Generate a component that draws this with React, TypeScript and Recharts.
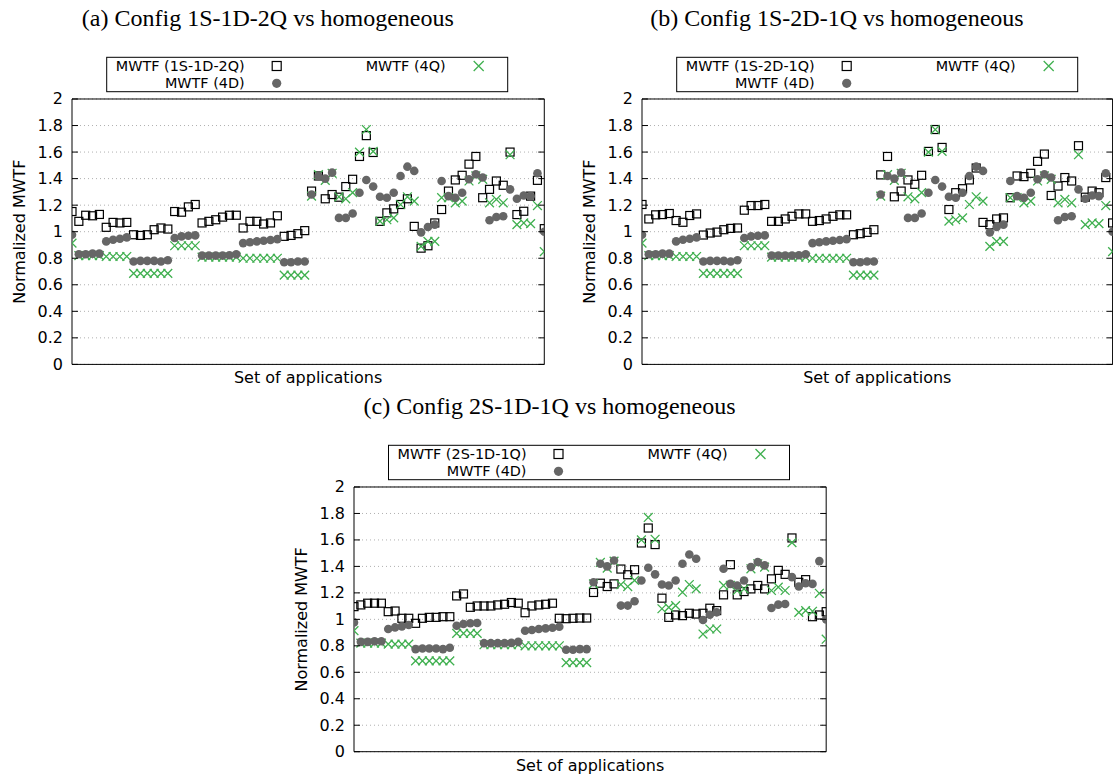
import { ScatterChart, Scatter, XAxis, YAxis, CartesianGrid, ReferenceArea } from 'recharts'

// values, one entry per application (70 of them)
const FOUR_D = [
  0.977, 0.83, 0.83, 0.835, 0.835, 0.927, 0.939, 0.947, 0.957, 0.775,
  0.78, 0.78, 0.78, 0.775, 0.785, 0.952, 0.965, 0.97, 0.972, 0.82,
  0.82, 0.82, 0.82, 0.822, 0.83, 0.914, 0.92, 0.927, 0.932, 0.937,
  0.944, 0.77, 0.77, 0.775, 0.775, 1.28, 1.42, 1.4, 1.445, 1.104,
  1.104, 1.137, 1.294, 1.39, 1.34, 1.263, 1.256, 1.294, 1.42, 1.49,
  1.458, 0.995, 1.035, 1.053, 1.382, 1.268, 1.256, 1.294, 1.395, 1.433,
  1.408, 1.086, 1.111, 1.116, 1.319, 1.248, 1.273, 1.268, 1.44, 1.0,
]

const FOUR_Q = [
  0.914, 0.82, 0.82, 0.82, 0.82, 0.813, 0.813, 0.813, 0.813, 0.686,
  0.686, 0.686, 0.686, 0.686, 0.686, 0.894, 0.894, 0.894, 0.894, 0.808,
  0.808, 0.808, 0.808, 0.808, 0.808, 0.8, 0.8, 0.8, 0.8, 0.8,
  0.8, 0.673, 0.673, 0.673, 0.673, 1.268, 1.43, 1.387, 1.44, 1.263,
  1.248, 1.294, 1.6, 1.77, 1.605, 1.08, 1.09, 1.104, 1.205, 1.263,
  1.23, 0.889, 0.927, 0.927, 1.256, 1.256, 1.218, 1.23, 1.382, 1.42,
  1.395, 1.218, 1.243, 1.218, 1.58, 1.053, 1.066, 1.061, 1.197, 0.85,
]

const CFG_1S1D2Q = [
  1.152, 1.078, 1.124, 1.12, 1.13, 1.033, 1.07, 1.066, 1.07, 0.977,
  0.972, 0.977, 1.015, 1.028, 1.02, 1.152, 1.147, 1.187, 1.205, 1.066,
  1.078, 1.09, 1.11, 1.124, 1.124, 1.028, 1.078, 1.078, 1.058, 1.066,
  1.12, 0.965, 0.972, 0.985, 1.008, 1.306, 1.42, 1.248, 1.28, 1.26,
  1.34, 1.395, 1.567, 1.724, 1.597, 1.078, 1.142, 1.172, 1.205, 1.248,
  1.04, 0.876, 0.894, 1.066, 1.167, 1.306, 1.39, 1.425, 1.509, 1.567,
  1.256, 1.319, 1.382, 1.35, 1.6, 1.129, 1.154, 1.268, 1.387, 1.023,
]

const CFG_1S2D1Q = [
  1.205, 1.096, 1.127, 1.129, 1.137, 1.084, 1.071, 1.122, 1.134, 0.975,
  0.99, 0.997, 1.015, 1.025, 1.028, 1.162, 1.197, 1.197, 1.205, 1.078,
  1.078, 1.096, 1.116, 1.134, 1.134, 1.078, 1.084, 1.096, 1.116, 1.127,
  1.127, 0.977, 0.985, 0.995, 1.015, 1.428, 1.567, 1.263, 1.306, 1.39,
  1.357, 1.425, 1.605, 1.77, 1.635, 1.167, 1.294, 1.324, 1.39, 1.48,
  1.07, 1.053, 1.096, 1.104, 1.256, 1.42, 1.415, 1.44, 1.53, 1.585,
  1.273, 1.344, 1.408, 1.382, 1.648, 1.26, 1.306, 1.294, 1.408, 1.066,
]

const CFG_2S1D1Q = [
  1.096, 1.109, 1.122, 1.122, 1.122, 1.058, 1.063, 1.008, 1.008, 0.97,
  1.008, 1.015, 1.015, 1.02, 1.02, 1.177, 1.192, 1.091, 1.101, 1.101,
  1.101, 1.109, 1.114, 1.127, 1.122, 1.05, 1.101, 1.109, 1.114, 1.122,
  1.008, 1.005, 1.008, 1.01, 1.01, 1.203, 1.273, 1.248, 1.268, 1.38,
  1.337, 1.375, 1.577, 1.69, 1.565, 1.16, 1.015, 1.033, 1.028, 1.046,
  1.04, 1.046, 1.084, 1.066, 1.185, 1.413, 1.185, 1.21, 1.23, 1.256,
  1.23, 1.306, 1.37, 1.34, 1.615, 1.28, 1.3, 1.02, 1.033, 1.058,
]

const Y_TICKS = [0, 0.2, 0.4, 0.6, 0.8, 1, 1.2, 1.4, 1.6, 1.8, 2]
const X_LAST = FOUR_D.length - 1

const SANS = 'DejaVu Sans, sans-serif'
const SERIF = 'Liberation Serif, Times New Roman, serif'
const GREEN = '#40b050'
const GREY = '#666666'

const YW = 72 // y axis band width
const TICK_GAP = 9
const MT = 12
const MR = 6
const XH = 24

interface PanelSpec {
  title: string
  cfgLabel: string
  cfg: number[]
  left: number
  top: number
  w: number
  h: number
}

const PANELS: PanelSpec[] = [
  { title: '(a) Config 1S-1D-2Q vs homogeneous', cfgLabel: 'MWTF (1S-1D-2Q)', cfg: CFG_1S1D2Q, left: 71.7, top: 99.3, w: 472.3, h: 265.4 },
  { title: '(b) Config 1S-2D-1Q vs homogeneous', cfgLabel: 'MWTF (1S-2D-1Q)', cfg: CFG_1S2D1Q, left: 641.7, top: 99.3, w: 470.6, h: 265.4 },
  { title: '(c) Config 2S-1D-1Q vs homogeneous', cfgLabel: 'MWTF (2S-1D-1Q)', cfg: CFG_2S1D1Q, left: 353.5, top: 487.3, w: 472.2, h: 264.7 },
]

function square(cx: number, cy: number, s: number) {
  return <rect x={cx - s / 2} y={cy - s / 2} width={s} height={s} fill="none" stroke="#000" strokeWidth={1.2} />
}

function cross(cx: number, cy: number, s: number) {
  return (
    <path
      d={`M${cx - s},${cy - s}L${cx + s},${cy + s}M${cx - s},${cy + s}L${cx + s},${cy - s}`}
      stroke={GREEN}
      strokeWidth={1.3}
      fill="none"
    />
  )
}

function dot(cx: number, cy: number, r: number) {
  return <circle cx={cx} cy={cy} r={r} fill={GREY} />
}

const squareShape = (props: any) => square(props.cx, props.cy, 8)
const crossShape = (props: any) => cross(props.cx, props.cy, 4.4)
const dotShape = (props: any) => dot(props.cx, props.cy, 4.3)

function YTick({ x, y, payload, plotW }: any) {
  const axisX = x + TICK_GAP
  return (
    <g>
      <text x={x} y={y} textAnchor="end" dominantBaseline="central" fontFamily={SANS} fontSize={16} fill="#000">
        {payload.value}
      </text>
      <line x1={axisX} x2={axisX + 6} y1={y} y2={y} stroke="#000" />
      <line x1={axisX + plotW - 6} x2={axisX + plotW} y1={y} y2={y} stroke="#000" />
    </g>
  )
}

function Panel({ p }: { p: PanelSpec }) {
  const cfgData = p.cfg.map((y, x) => ({ x, y }))
  const qData = FOUR_Q.map((y, x) => ({ x, y }))
  const dData = FOUR_D.map((y, x) => ({ x, y }))

  return (
    <div style={{ position: 'absolute', left: p.left - YW, top: p.top - MT }}>
      <ScatterChart
        width={YW + p.w + MR}
        height={MT + p.h + XH}
        margin={{ top: MT, right: MR, bottom: 0, left: 0 }}
      >
        <CartesianGrid vertical={false} stroke="#b0b0b0" strokeDasharray="1 3" />
        <XAxis
          type="number"
          dataKey="x"
          domain={[0, X_LAST]}
          allowDataOverflow
          tick={false}
          tickLine={false}
          axisLine={false}
          height={XH}
          label={{
            value: 'Set of applications',
            position: 'insideBottom',
            offset: 5,
            style: { fontFamily: SANS, fontSize: 16, fill: '#000' },
          }}
        />
        <YAxis
          type="number"
          dataKey="y"
          domain={[0, 2]}
          allowDataOverflow
          ticks={Y_TICKS}
          interval={0}
          width={YW}
          axisLine={false}
          tickLine={false}
          tickSize={0}
          tickMargin={TICK_GAP}
          tick={(t: any) => <YTick {...t} plotW={p.w} />}
          label={{
            value: 'Normalized MWTF',
            angle: -90,
            position: 'insideLeft',
            offset: YW - 52.5,
            style: { textAnchor: 'middle', fontFamily: SANS, fontSize: 16, fill: '#000' },
          }}
        />
        <ReferenceArea x1={0} x2={X_LAST} y1={0} y2={2} fill="none" stroke="#000" strokeWidth={1} />
        <Scatter data={cfgData} shape={squareShape} isAnimationActive={false} />
        <Scatter data={qData} shape={crossShape} isAnimationActive={false} />
        <Scatter data={dData} shape={dotShape} isAnimationActive={false} />
      </ScatterChart>
    </div>
  )
}

function Header({ p }: { p: PanelSpec }) {
  const L = p.left
  const T = p.top
  const row1 = T - 33.3
  const row2 = T - 16
  const txt = { fontFamily: SANS, fontSize: 14.4, fill: '#000', textAnchor: 'end' as const, dominantBaseline: 'central' as const }
  return (
    <g>
      <text x={L + p.w / 2 - 40} y={T - 73} textAnchor="middle" fontFamily={SERIF} fontSize={24} fill="#000">
        {p.title}
      </text>
      <rect x={L + 35} y={T - 42} width={401} height={34.4} fill="none" stroke="#000" strokeWidth={1} />
      <text x={L + 173} y={row1} {...txt}>{p.cfgLabel}</text>
      {square(L + 205, row1, 9)}
      <text x={L + 374} y={row1} {...txt}>MWTF (4Q)</text>
      {cross(L + 407, row1, 5)}
      <text x={L + 173} y={row2} {...txt}>MWTF (4D)</text>
      {dot(L + 205, row2, 4.6)}
    </g>
  )
}

export default function App() {
  return (
    <div style={{ position: 'relative', width: 1113, height: 778, overflow: 'hidden', background: '#fff' }}>
      <style>{'body{margin:0}'}</style>
      <svg width={1113} height={778} style={{ position: 'absolute', left: 0, top: 0 }}>
        {PANELS.map((p) => (
          <Header key={p.title} p={p} />
        ))}
      </svg>
      {PANELS.map((p) => (
        <Panel key={p.title} p={p} />
      ))}
    </div>
  )
}
